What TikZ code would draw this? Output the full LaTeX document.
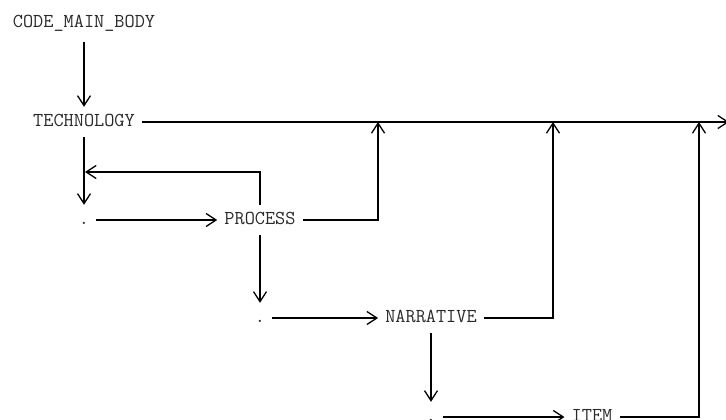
\documentclass[tikz,border=0pt]{standalone}
\usepackage{fontspec}
\usetikzlibrary{arrows.meta}
\definecolor{txt}{HTML}{2A2A2A}
\tikzset{
  lbl/.style={font=\ttfamily\fontsize{19.8}{22}\selectfont, text=txt, inner xsep=7bp, inner ysep=0pt,
              text height=11bp, text depth=3bp, minimum height=30bp, anchor=center},
  arr/.style={draw=black, line width=1.3bp, -{Straight Barb[length=10bp,width=13bp,line width=1.3bp]}},
  ln/.style={draw=black, line width=1.3bp}
}
\begin{document}
\begin{tikzpicture}[x=1bp,y=-1bp]
\useasboundingbox (0,0) rectangle (726,419);
\node[lbl] (c) at (84,23) {CODE\_MAIN\_BODY};
\node[lbl] (t) at (84,122) {TECHNOLOGY};
\node[lbl] (d1) at (84,220) {.};
\node[lbl] (p) at (260,220) {PROCESS};
\node[lbl] (d2) at (260,318) {.};
\node[lbl] (n) at (431,318) {NARRATIVE};
\node[lbl] (d3) at (431,417) {.};
\node[lbl] (i) at (592,417) {ITEM};
\coordinate (out) at (729,122);
\coordinate (fb) at (85,172);
\coordinate (u1) at (378,122);
\coordinate (u2) at (553,122);
\coordinate (u3) at (699,122);
\draw[arr] (c.south) ++(0,4) -- (t.north);
\draw[arr] (t.east) -- (out);
\draw[arr] (t.south) -- (d1.north);
\draw[arr] (p.north) |- (fb);
\draw[arr] (d1.east) -- (p.west);
\draw[arr] (p.east) -| (u1);
\draw[arr] (p.south) -- (d2.north);
\draw[arr] (d2.east) -- (n.west);
\draw[arr] (n.east) -| (u2);
\draw[arr] (n.south) -- (d3.north);
\draw[arr] (d3.east) -- (i.west);
\draw[arr] (i.east) -| (u3);
\end{tikzpicture}
\end{document}
